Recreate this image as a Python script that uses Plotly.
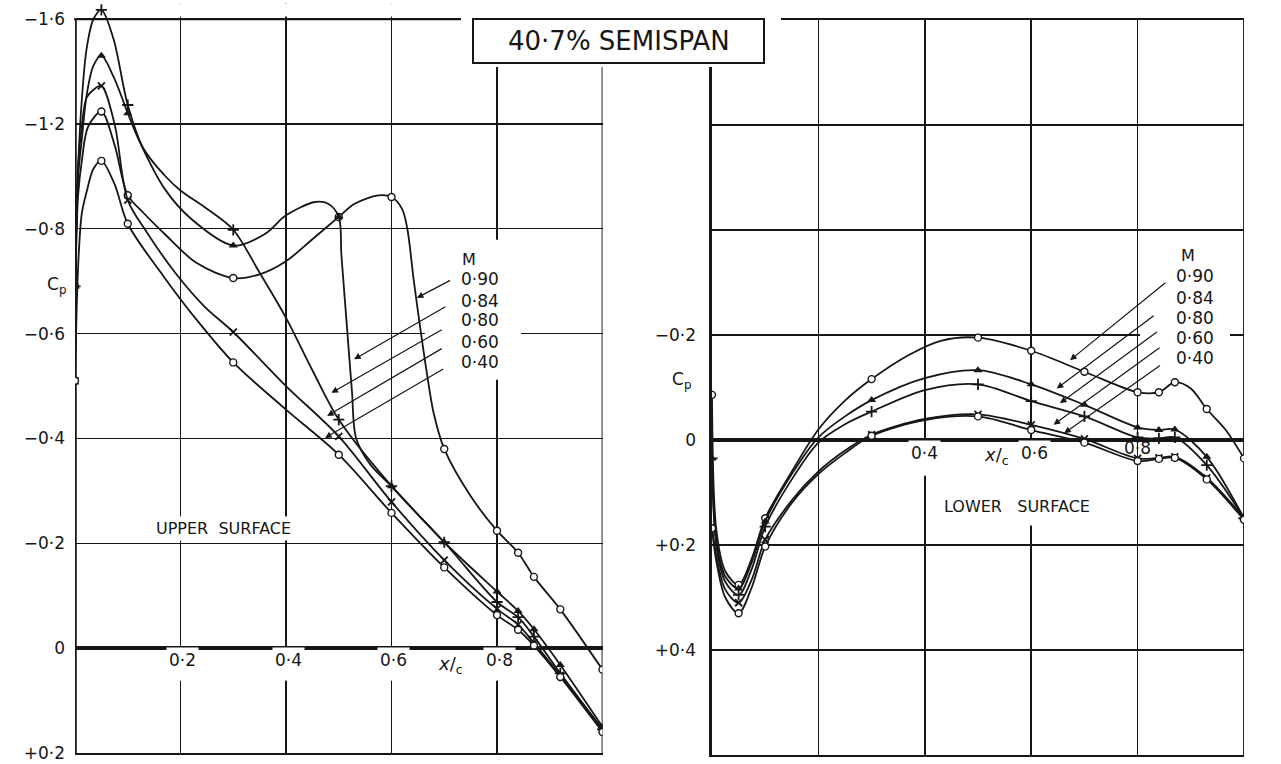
import plotly.graph_objects as go

W, H = 1281, 764
INK = "#161616"
FONT = "DejaVu Sans"

# ---------------- upper surface (x/c, Cp) ----------------
STATIONS_UP = [0.0, 0.05, 0.1, 0.3, 0.5, 0.6, 0.7, 0.8, 0.84, 0.87, 0.92, 1.0]

x_up_090 = [0, 0.006, 0.013, 0.025, 0.05, 0.075, 0.1, 0.13, 0.17, 0.23, 0.3, 0.35, 0.4, 0.45, 0.5,
            0.53, 0.575, 0.6, 0.62, 0.63, 0.642, 0.655, 0.667, 0.68, 0.7, 0.75, 0.8, 0.84, 0.87, 0.92, 1.0]
cp_up_090 = [-0.69, -0.93, -1.06, -1.19, -1.247, -1.12, -0.928, -0.86, -0.79, -0.735, -0.706, -0.713, -0.738,
             -0.78, -0.845, -0.895, -0.927, -0.921, -0.876, -0.80, -0.703, -0.607, -0.525, -0.448, -0.38,
             -0.29, -0.224, -0.182, -0.136, -0.074, 0.041]

x_up_084 = [0, 0.006, 0.013, 0.022, 0.035, 0.05, 0.073, 0.1, 0.12, 0.17, 0.22, 0.3, 0.36, 0.4, 0.455, 0.48,
            0.5, 0.505, 0.515, 0.525, 0.533, 0.56, 0.6, 0.7, 0.8, 0.84, 0.87, 0.92, 1.0]
cp_up_084 = [-0.69, -1.0, -1.143, -1.308, -1.422, -1.46, -1.38, -1.241, -1.143, -0.952, -0.838, -0.768,
             -0.79, -0.851, -0.902, -0.895, -0.845, -0.75, -0.62, -0.49, -0.40, -0.35, -0.309, -0.202,
             -0.108, -0.071, -0.036, 0.032, 0.15]

x_up_080 = [0, 0.006, 0.013, 0.022, 0.035, 0.05, 0.073, 0.1, 0.13, 0.17, 0.2, 0.25, 0.3, 0.35, 0.4, 0.45,
            0.5, 0.6, 0.7, 0.8, 0.84, 0.87, 0.92, 1.0]
cp_up_080 = [-0.69, -1.04, -1.295, -1.486, -1.60, -1.635, -1.524, -1.272, -1.105, -1.003, -0.946, -0.876,
             -0.798, -0.716, -0.63, -0.53, -0.436, -0.309, -0.202, -0.088, -0.059, -0.022, 0.048, 0.155]

x_up_060 = [0, 0.006, 0.013, 0.022, 0.035, 0.05, 0.075, 0.1, 0.137, 0.19, 0.245, 0.3, 0.4, 0.5, 0.6, 0.7,
            0.8, 0.84, 0.87, 0.92, 1.0]
cp_up_060 = [-0.51, -1.04, -1.194, -1.30, -1.33, -1.345, -1.2, -0.909, -0.792, -0.716, -0.652, -0.603,
             -0.50, -0.404, -0.279, -0.168, -0.075, -0.045, -0.01, 0.052, 0.155]

x_up_040 = [0, 0.006, 0.013, 0.022, 0.035, 0.05, 0.075, 0.1, 0.168, 0.23, 0.3, 0.4, 0.5, 0.6, 0.7, 0.8,
            0.84, 0.87, 0.92, 1.0]
cp_up_040 = [-0.51, -0.73, -0.86, -0.94, -1.029, -1.059, -0.97, -0.819, -0.709, -0.627, -0.545, -0.455,
             -0.369, -0.258, -0.154, -0.063, -0.035, -0.005, 0.055, 0.16]

# ---------------- lower surface (x/c, Cp) ----------------
STATIONS_LO = [0.0, 0.05, 0.1, 0.3, 0.5, 0.6, 0.7, 0.8, 0.84, 0.87, 0.93, 1.0]

x_lo_090 = [0, 0.008, 0.025, 0.05, 0.075, 0.1, 0.15, 0.2, 0.25, 0.3, 0.37, 0.43, 0.5, 0.6, 0.7, 0.8,
            0.84, 0.87, 0.9, 0.93, 0.965, 1.0]
cp_lo_090 = [-0.086, 0.17, 0.25, 0.276, 0.225, 0.149, 0.06, -0.02, -0.075, -0.116, -0.162, -0.189,
             -0.195, -0.170, -0.130, -0.091, -0.091, -0.110, -0.098, -0.059, -0.02, 0.035]

x_lo = [0, 0.008, 0.025, 0.05, 0.075, 0.1, 0.15, 0.2, 0.25, 0.3, 0.4, 0.5, 0.6, 0.7, 0.8, 0.84, 0.87,
        0.93, 1.0]
cp_lo_084 = [0.035, 0.19, 0.26, 0.283, 0.232, 0.155, 0.065, -0.005, -0.045, -0.076, -0.118, -0.133,
             -0.106, -0.067, -0.024, -0.019, -0.020, 0.032, 0.149]
cp_lo_080 = [0.035, 0.20, 0.27, 0.295, 0.245, 0.165, 0.075, 0.005, -0.03, -0.054, -0.095, -0.106,
             -0.074, -0.045, -0.005, -0.003, -0.005, 0.048, 0.149]
cp_lo_060 = [0.168, 0.22, 0.285, 0.31, 0.265, 0.19, 0.115, 0.06, 0.02, -0.01, -0.04, -0.049, -0.029,
             -0.002, 0.035, 0.034, 0.032, 0.072, 0.149]
cp_lo_040 = [0.168, 0.23, 0.30, 0.33, 0.28, 0.203, 0.12, 0.065, 0.025, -0.008, -0.038, -0.045, -0.019,
             0.005, 0.040, 0.036, 0.034, 0.075, 0.152]

MACH_LABELS = ["0·90", "0·84", "0·80", "0·60", "0·40"]

# tick labels of the upper-surface Cp scale (coarser above -0.8)
UP_TICKS = [-1.6, -1.2, -0.8, -0.6, -0.4, -0.2, 0.0, 0.2]
UP_TICKTEXT = ["\u22121·6", "\u22121·2", "\u22120·8", "\u22120·6", "\u22120·4", "\u22120·2", "0", "+0·2"]
LO_TICKS = [-0.8, -0.6, -0.4, -0.2, 0.0, 0.2, 0.4, 0.6]
LO_TICKTEXT = ["", "", "", "\u22120·2", "0", "+0·2", "+0·4", ""]
X_TICKS = [0.2, 0.4, 0.6, 0.8]
UP_TOP = -1.66   # plotting room above the -1.6 line for the suction peak


def up_pos(cp):
    """Upper-surface scale: 0.2 per grid cell below -0.8, 0.4 per cell above."""
    return cp if cp >= -0.8 else -0.8 + (cp + 0.8) / 2.0


MARKERS = {
    "0·90": dict(symbol="circle", size=7, color="white", line=dict(color=INK, width=1.4)),
    "0·84": dict(symbol="triangle-up", size=8, color=INK, line=dict(width=0)),
    "0·80": dict(symbol="cross-thin", size=8, color=INK, line=dict(color=INK, width=1.8)),
    "0·60": dict(symbol="x-thin", size=7, color=INK, line=dict(color=INK, width=1.8)),
    "0·40": dict(symbol="circle", size=7, color="white", line=dict(color=INK, width=1.4)),
}

fig = go.Figure()


def add_curve(xs, cps, stations, label, xa, ya, transform):
    ys = [transform(v) for v in cps]
    fig.add_trace(go.Scatter(x=xs, y=ys, mode="lines", xaxis=xa, yaxis=ya,
                             line=dict(color=INK, width=1.8, shape="spline", smoothing=0.9),
                             hoverinfo="skip", showlegend=False))
    keep = [i for i, x in enumerate(xs) if any(abs(x - s) < 1e-9 for s in stations)]
    fig.add_trace(go.Scatter(x=[xs[i] for i in keep], y=[ys[i] for i in keep], mode="markers",
                             xaxis=xa, yaxis=ya, marker=MARKERS[label], hoverinfo="skip",
                             showlegend=False))


ident = lambda v: v
upper = [(x_up_090, cp_up_090), (x_up_084, cp_up_084), (x_up_080, cp_up_080),
         (x_up_060, cp_up_060), (x_up_040, cp_up_040)]
lower = [(x_lo_090, cp_lo_090), (x_lo, cp_lo_084), (x_lo, cp_lo_080),
         (x_lo, cp_lo_060), (x_lo, cp_lo_040)]
for (xs, cps), lab in zip(upper, MACH_LABELS):
    add_curve(xs, cps, STATIONS_UP, lab, "x", "y", up_pos)
for (xs, cps), lab in zip(lower, MACH_LABELS):
    add_curve(xs, cps, STATIONS_LO, lab, "x2", "y2", ident)

# ---------------- axes ----------------
PX = lambda px: px / W
PY = lambda py: 1 - py / H
UP_X0, UP_X1, UP_Y16, UP_Y02 = 75.0, 602.5, 19.3, 753.0          # panel frame, pixels
TOP_UP_PX = UP_Y16 - (-1.6 - UP_TOP) / 0.4 * 106.7               # row of the extended upper range

grid = dict(showgrid=True, gridcolor=INK, gridwidth=1.5, ticks="", fixedrange=True, automargin=False)
fig.update_layout(
    width=W, height=H, margin=dict(l=0, r=0, t=0, b=0, pad=0), autosize=False,
    paper_bgcolor="white", plot_bgcolor="white",
    font=dict(family=FONT, color=INK, size=17),
    xaxis=dict(domain=[PX(UP_X0), PX(UP_X1)], range=[0, 1], tickvals=X_TICKS, showticklabels=False,
               zeroline=False, showline=True, mirror=False, linecolor=INK, linewidth=1.8, **grid),
    yaxis=dict(domain=[PY(UP_Y02), PY(TOP_UP_PX)], range=[0.2, up_pos(UP_TOP)],
               tickvals=[up_pos(v) for v in UP_TICKS], ticktext=UP_TICKTEXT,
               ticklabelstandoff=9, tickfont=dict(size=17),
               zeroline=True, zerolinecolor=INK, zerolinewidth=3.5, showline=False, **grid),
    xaxis2=dict(domain=[PX(712), PX(1244)], range=[0, 1], tickvals=X_TICKS, showticklabels=False,
                zeroline=False, showline=True, mirror=True, linecolor=INK, linewidth=1.8,
                anchor="y2", **grid),
    yaxis2=dict(domain=[PY(755), PY(20)], range=[0.6, -0.8], tickvals=LO_TICKS, ticktext=LO_TICKTEXT,
                ticklabelstandoff=9, tickfont=dict(size=17),
                zeroline=True, zerolinecolor=INK, zerolinewidth=3.5,
                showline=True, linecolor=INK, linewidth=3.5, anchor="x2", **grid),
)

shapes = []


def clear(xref, yref, x0, x1, y0, y1):
    shapes.append(dict(type="rect", xref=xref, yref=yref, x0=x0, x1=x1, y0=y0, y1=y1,
                       fillcolor="white", line=dict(width=0), layer="between"))


def rule(xref, yref, x0, x1, y0, y1, width, layer="between"):
    shapes.append(dict(type="line", xref=xref, yref=yref, x0=x0, x1=x1, y0=y0, y1=y1,
                       line=dict(color=INK, width=width), layer=layer))


# room above the -1.6 line stays blank except for the curves
clear("x", "y", -0.02, 1.02, up_pos(-1.61), up_pos(UP_TOP) - 0.06)
# frame of the upper-surface panel
rule("paper", "paper", PX(UP_X0 - 1), PX(UP_X1), PY(UP_Y16), PY(UP_Y16), 1.8, layer="above")
rule("x", "y", 0, 0, 0.2, up_pos(-1.6), 3.5)
rule("x", "y", 1, 1, 0.2, up_pos(-1.6), 1.8)
rule("x2", "y2", 1, 1, 0.6, -0.8, 1.8, layer="below")

# clear patches in the grid behind lettering
for xv in X_TICKS:
    clear("x", "y", xv - 0.012, xv + 0.012, 0.007, 0.062)
clear("x2", "y2", 0.388, 0.412, 0.007, 0.068)
clear("x2", "y2", 0.588, 0.612, 0.007, 0.163)
clear("x", "y", 0.6635, 0.8455, -0.779, -0.512)
clear("x2", "y2", 0.8045, 0.9737, -0.365, -0.137)

# title block
shapes.append(dict(type="rect", xref="paper", yref="paper", x0=PX(461), x1=PX(781), y0=PY(67), y1=PY(0),
                   fillcolor="white", line=dict(width=0), layer="above"))
shapes.append(dict(type="rect", xref="paper", yref="paper", x0=PX(473), x1=PX(764), y0=PY(63), y1=PY(19),
                   fillcolor="white", line=dict(color=INK, width=2), layer="above"))
fig.update_layout(shapes=shapes)

ann = []


def text(x, y, s, xref, yref, size=17, bg=None, **kw):
    d = dict(x=x, y=y, text=s, xref=xref, yref=yref, showarrow=False,
             xanchor="center", yanchor="middle",
             font=dict(family=FONT, size=size, color=INK), **kw)
    if bg:
        d.update(bgcolor=bg, borderpad=2)
    ann.append(d)


text(PX(618.5), PY(41), "40·7% SEMISPAN", "paper", "paper", size=26)

# x/c labels along the zero lines
for xv, lab in zip([0.2, 0.4, 0.6, 0.8], ["0·2", "0·4", "0·6", "0·8"]):
    text(xv + 0.004, 0.023, lab, "x", "y", size=17, bg="white")
text(1.01, 0.019, "1·0", "x", "y", size=17, bg="white")
text(0.711, 0.032, "<i>x</i>/<sub>c</sub>", "x", "y", size=18)
text(0.4, 0.025, "0·4", "x2", "y2", size=17, bg="white")
text(0.607, 0.025, "0·6", "x2", "y2", size=17, bg="white")
text(0.799, 0.016, "0·8", "x2", "y2", size=17)
text(1.011, 0.0215, "1·0", "x2", "y2", size=17)
text(0.534, 0.031, "<i>x</i>/<sub>c</sub>", "x2", "y2", size=18)

text(0.282, -0.229, "UPPER  SURFACE", "x", "y", size=16, bg="white")
text(0.573, 0.126, "LOWER   SURFACE", "x2", "y2", size=16, bg="white")

text(PX(56), PY(285), "C<sub>p</sub>", "paper", "paper", size=17)
text(PX(681), PY(381), "C<sub>p</sub>", "paper", "paper", size=17)

# Mach number keys with leader arrows
up_key_y = [-0.705, -0.663, -0.625, -0.584, -0.545]
lo_key_y = [-0.313, -0.271, -0.232, -0.195, -0.157]
text(0.746, -0.741, "M", "x", "y", size=16)
text(0.895, -0.352, "M", "x2", "y2", size=16)
for lab, yk in zip(MACH_LABELS, up_key_y):
    text(0.768, yk, lab, "x", "y", size=17)
for lab, yk in zip(MACH_LABELS, lo_key_y):
    text(0.908, yk, lab, "x2", "y2", size=17)

up_tips = [(0.648, -0.668), (0.529, -0.551), (0.486, -0.487), (0.478, -0.443), (0.474, -0.401)]
up_tails = [(0.714, -0.703), (0.705, -0.653), (0.698, -0.609), (0.698, -0.573), (0.701, -0.534)]
lo_tips = [(0.673, -0.152), (0.648, -0.098), (0.654, -0.070), (0.642, -0.029), (0.662, -0.013)]
lo_tails = [(0.855, -0.302), (0.833, -0.239), (0.839, -0.208), (0.844, -0.178), (0.845, -0.144)]


def leader(tip, tail, xa, ya):
    ann.append(dict(x=tip[0], y=tip[1], ax=tail[0], ay=tail[1], xref=xa, yref=ya, axref=xa, ayref=ya,
                    showarrow=True, arrowhead=2, arrowsize=1.1, arrowwidth=1.2, arrowcolor=INK,
                    standoff=0, text=""))


for tp, tl in zip(up_tips, up_tails):
    leader(tp, tl, "x", "y")
for tp, tl in zip(lo_tips, lo_tails):
    leader(tp, tl, "x2", "y2")

fig.update_layout(annotations=ann)
fig.write_html("out.html", config={"displayModeBar": False, "staticPlot": True})
